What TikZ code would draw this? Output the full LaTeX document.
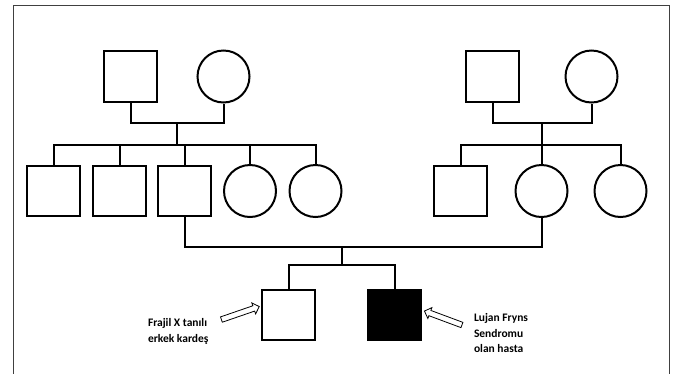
\documentclass[tikz,border=0pt]{standalone}
\usepackage{fontspec}
\setmainfont{Carlito}
\usetikzlibrary{shapes.arrows}

\tikzset{
  male/.style={draw, rectangle, minimum width=53pt, minimum height=50.5pt, inner sep=0pt},
  female/.style={draw, circle, minimum size=52pt, inner sep=0pt},
  hollowarrow/.style={draw, single arrow, line width=0.8pt, fill=white, inner sep=2.4pt,
    minimum height=40pt, single arrow head extend=3pt},
  caption/.style={font=\bfseries\fontsize{11.5}{15.5}\selectfont, align=left, anchor=west, inner sep=0pt}
}

\begin{document}
\begin{tikzpicture}[x=1pt, y=-1pt, line width=2pt]

\useasboundingbox (0,0) rectangle (676,373);
\draw[line width=1pt, black!75] (13,380) |- (669,5) -- (669,380);

% grandparents
\node[male]   (gf1) at (130.5,76.5) {};
\node[female] (gm1) at (223.5,76.5) {};
\node[male]   (gf2) at (492.5,76.5) {};
\node[female] (gm2) at (591.5,76.5) {};

% second generation
\node[male]   (c1) at (53.5,191) {};
\node[male]   (c2) at (119.5,191) {};
\node[male]   (c3) at (184.5,191) {};
\node[female] (c4) at (250,191) {};
\node[female] (c5) at (315.5,191) {};
\node[male]   (d1) at (460.5,191) {};
\node[female] (d2) at (541.5,191) {};
\node[female] (d3) at (620.5,191) {};

% third generation
\node[male]             (p1) at (288.5,315) {};
\node[male, fill=black] (p2) at (394.5,315) {};

\coordinate (m1) at (177,123);
\coordinate (s1) at (177,145);
\coordinate (m2) at (541.5,123);
\coordinate (s2) at (541.5,145);
\coordinate (m3) at (342,247);
\coordinate (s3) at (342,265);

\draw (gf1.south) |- (m1) -| (gm1.south);
\draw (m1) -- (s1);
\draw (c1.north) |- (s1) -| (c5.north);
\foreach \c in {c2,c3,c4} \draw (\c.north) -- (\c.north |- s1);

\draw (gf2.south) |- (m2) -| (gm2.south);
\draw (m2) -- (s2);
\draw (d1.north) |- (s2) -| (d3.north);
\draw (d2.north) -- (s2);

\draw (c3.south) |- (m3) -| (d2.south);
\draw (m3) -- (s3);
\draw (p1.north) |- (s3) -| (p2.north);

% labels
\node[hollowarrow, rotate=19]    (a1) at (239,313.5) {};
\node[hollowarrow, rotate=159.6] (a2) at (444.5,318.5) {};
\node[caption] (t1) at (147,331.5) {Frajil X tanılı\\erkek kardeş};
\node[caption] (t2) at (473,333) {Lujan Fryns\\Sendromu\\olan hasta};

\end{tikzpicture}
\end{document}
